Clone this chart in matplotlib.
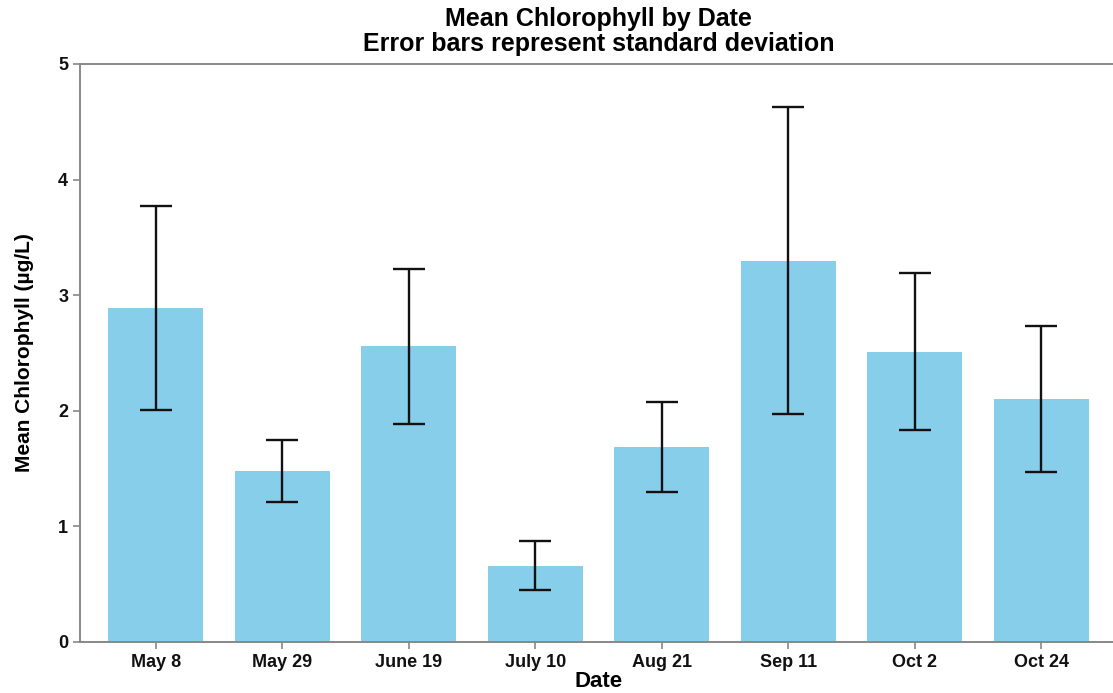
#Mean chlorophyll by sampling date, with standard deviation error bars
import matplotlib.pyplot as plt

#Data
dates = ["May 8", "May 29", "June 19", "July 10", "Aug 21", "Sep 11", "Oct 2", "Oct 24"]
mean_chl = [2.89, 1.48, 2.56, 0.66, 1.69, 3.30, 2.51, 2.10]
sd_chl = [0.88, 0.27, 0.67, 0.21, 0.39, 1.33, 0.68, 0.63]

plt.rcParams['font.family'] = ['Liberation Sans', 'DejaVu Sans']
plt.rcParams['font.weight'] = 'bold'

fig = plt.figure(figsize=(11.13, 6.93), dpi=100)
#axes run slightly past the right edge, like the cropped original
ax = fig.add_axes([80/1113, 1 - 642/693, 1037/1113, 578/693])

x = range(len(dates))
ax.bar(x, mean_chl, width=0.75, color='#87CEEB')
ax.errorbar(x, mean_chl, yerr=sd_chl, fmt='none', ecolor='#111111',
            elinewidth=1.7, capsize=11.5, capthick=1.7)

ax.set_xlim(-0.6, 7.6)
ax.set_ylim(0, 5)
ax.set_xticks(list(x))
ax.set_xticklabels(dates)
ax.set_yticks([0, 1, 2, 3, 4, 5])

for side in ['left', 'bottom', 'top']:
    ax.spines[side].set_color('#888888')
    ax.spines[side].set_linewidth(1.4)
ax.spines['right'].set_visible(False)
ax.tick_params(colors='#888888', labelcolor='#111111', labelsize=13, length=5, width=1.2)

ax.set_xlabel("Date", fontsize=16, fontweight='bold', labelpad=0)
ax.set_ylabel("Mean Chlorophyll (µg/L)", fontsize=15, fontweight='bold', labelpad=17)
ax.set_title("Mean Chlorophyll by Date\nError bars represent standard deviation",
             fontsize=18, fontweight='bold', pad=9, linespacing=1.1)

fig.savefig("out.png", dpi=100)
